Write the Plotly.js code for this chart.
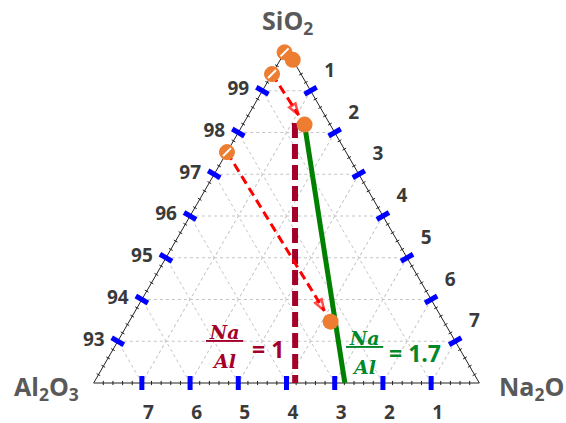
<!DOCTYPE html>
<html>
<head>
<meta charset="utf-8">
<script src="https://cdn.plot.ly/plotly-3.0.1.min.js"></script>
<style>
  html, body { margin: 0; padding: 0; background: #fff; }
  #chart { width: 566px; height: 423px; }
</style>
</head>
<body>
<div id="chart"></div>
<script>
// Ternary SiO2 - Al2O3 - Na2O (wt%), zoomed on the silica corner

// Tick values on each edge
const aTicks = [93, 94, 95, 96, 97, 98, 99];
const bTicks = [1, 2, 3, 4, 5, 6, 7];
const cTicks = [1, 2, 3, 4, 5, 6, 7];

// Starting compositions (hatched markers)
const startSiO2 = [99.92, 99.40, 97.53];
const startAl2O3 = [0.08, 0.60, 2.47];
const startNa2O = [0.00, 0.00, 0.00];

// Final compositions (filled markers)
const endSiO2 = [99.74, 98.19, 93.47];
const endAl2O3 = [0.00, 0.53, 2.35];
const endNa2O = [0.26, 1.28, 4.18];

// Arrow tips (arrows start at hatched points 2 and 3)
const tipSiO2 = [98.42, 93.73];
const tipAl2O3 = [0.54, 2.35];
const tipNa2O = [1.04, 3.92];

// Na/Al = 1 line
const na1SiO2 = [98.23, 92.00];
const na1Al2O3 = [0.71, 3.82];
const na1Na2O = [1.06, 4.18];

// Na/Al = 1.7 line
const na17SiO2 = [98.19, 92.00];
const na17Al2O3 = [0.53, 2.79];
const na17Na2O = [1.28, 5.21];

const ORANGE = '#ed7d31';
const MAROON = '#a5002a';
const GREEN = '#008000';
const GREEN_TXT = '#00882b';
const BLUE = '#0000ff';

const W = 566, H = 423;
const px = x => x / W;
const py = y => 1 - y / H;

// Edge marks: left edge (c = 0), bottom edge (a = 92), right edge (b = 0)
function edgePoints(vals) {
    return {
        left: { a: vals.map(v => 92 + v), b: vals.map(v => 8 - v), c: vals.map(() => 0) },
        bottom: { a: vals.map(() => 92), b: vals, c: vals.map(v => 8 - v) },
        right: { a: vals.map(v => 100 - v), b: vals.map(() => 0), c: vals }
    };
}

function edgeTrace(p, angle, size, width, color) {
    return {
        type: 'scatterternary', mode: 'markers',
        a: p.a, b: p.b, c: p.c,
        cliponaxis: false, hoverinfo: 'skip',
        marker: { symbol: 'line-ns', size: size, angle: angle,
                  color: color, line: { color: color, width: width } }
    };
}

// minor ticks every 0.2
const minorVals = [];
for (let i = 1; i < 40; i++) {
    if (i % 5 !== 0) minorVals.push(i * 0.2);
}
const minor = edgePoints(minorVals);

const data = [
    edgeTrace(minor.left, -60, 3, 1, '#222'),
    edgeTrace(minor.bottom, 0, 3, 1, '#222'),
    edgeTrace(minor.right, 60, 3, 1, '#222'),

    // Na/Al = 1 (dashed)
    {
        type: 'scatterternary', mode: 'lines',
        a: na1SiO2, b: na1Al2O3, c: na1Na2O,
        line: { color: MAROON, width: 6, dash: '15px,6px' },
        hoverinfo: 'skip'
    },
    // Na/Al = 1.7 (solid)
    {
        type: 'scatterternary', mode: 'lines',
        a: na17SiO2, b: na17Al2O3, c: na17Na2O,
        line: { color: GREEN, width: 5 },
        hoverinfo: 'skip'
    }
];

// red dashed arrows
for (let i = 0; i < tipSiO2.length; i++) {
    data.push({
        type: 'scatterternary', mode: 'lines+markers',
        a: [startSiO2[i + 1], tipSiO2[i]],
        b: [startAl2O3[i + 1], tipAl2O3[i]],
        c: [startNa2O[i + 1], tipNa2O[i]],
        line: { color: '#ff0000', width: 3, dash: '9px,5px' },
        marker: {
            symbol: ['circle', 'arrow-open'], size: [0, 12],
            angleref: 'previous', color: '#ff0000',
            line: { color: '#ff0000', width: 2.5 }
        },
        hoverinfo: 'skip'
    });
}

data.push(
    // hatched starting points
    {
        type: 'scatterternary', mode: 'markers',
        a: startSiO2, b: startAl2O3, c: startNa2O,
        cliponaxis: false,
        marker: { symbol: 'circle', size: 15, color: ORANGE,
                  line: { color: ORANGE, width: 1 } }
    },
    {
        type: 'scatterternary', mode: 'markers',
        a: startSiO2, b: startAl2O3, c: startNa2O,
        cliponaxis: false, hoverinfo: 'skip',
        marker: { symbol: 'line-ne', size: 8, color: 'white',
                  line: { color: 'white', width: 2 } }
    },
    // final points
    {
        type: 'scatterternary', mode: 'markers',
        a: endSiO2, b: endAl2O3, c: endNa2O,
        cliponaxis: false,
        marker: { symbol: 'circle', size: 16, color: ORANGE }
    },
    // blue major ticks
    edgeTrace(edgePoints(aTicks.map(t => t - 92)).left, -60, 10, 5, BLUE),
    edgeTrace(edgePoints(bTicks).bottom, 0, 10, 5, BLUE),
    edgeTrace(edgePoints(cTicks).right, 60, 10, 5, BLUE)
);

const SERIF = 'DejaVu Serif, serif';
const SANS = 'Open Sans, sans-serif';

function axis(min, vals, len) {
    return {
        min: min,
        title: { text: '' },
        tickmode: 'array',
        tickvals: vals,
        ticks: 'outside',
        ticklen: len,
        tickcolor: 'rgba(0,0,0,0)',
        tickfont: { family: SANS, size: 19, color: '#3a3a3a', weight: 'bold' },
        showline: true,
        linecolor: '#222',
        linewidth: 1,
        showgrid: true,
        gridcolor: '#c4c4c4',
        gridwidth: 1,
        griddash: 'dot',
        layer: 'below traces'
    };
}

function label(text, x, y, size, color, family) {
    return {
        text: text, xref: 'paper', yref: 'paper',
        x: px(x), y: py(y), showarrow: false,
        xanchor: 'center', yanchor: 'middle',
        font: { family: family, size: size, color: color, weight: 'bold' }
    };
}

const layout = {
    width: W, height: H,
    margin: { l: 0, r: 0, t: 0, b: 0 },
    paper_bgcolor: 'white',
    showlegend: false,
    ternary: {
        domain: { x: [px(93.5), px(479.5)], y: [py(383), py(49)] },
        sum: 100,
        bgcolor: 'white',
        aaxis: axis(92, aTicks, 10),
        baxis: axis(0, bTicks, 13),
        caxis: axis(0, cTicks, 21)
    },
    annotations: [
        label('<b>SiO<sub>2</sub></b>', 287, 22, 25, '#595959', SANS),
        label('<b>Al<sub>2</sub>O<sub>3</sub></b>', 47, 387, 25, '#595959', SANS),
        label('<b>Na<sub>2</sub>O</b>', 531, 387, 25, '#595959', SANS),

        label('<b><i><u>\u2009Na\u2009</u></i></b>', 224, 332, 19, MAROON, SERIF),
        label('<b><i>Al</i></b>', 224, 361, 19, MAROON, SERIF),
        label('<b>= 1</b>', 268, 349, 23, MAROON, SANS),

        label('<b><i><u>\u2009Na\u2009</u></i></b>', 364, 338, 19, GREEN_TXT, SERIF),
        label('<b><i>Al</i></b>', 364, 367, 19, GREEN_TXT, SERIF),
        label('<b>= 1.7</b>', 415, 353, 23, GREEN_TXT, SANS)
    ]
};

Plotly.newPlot('chart', data, layout, { staticPlot: true, displayModeBar: false });
</script>
</body>
</html>
